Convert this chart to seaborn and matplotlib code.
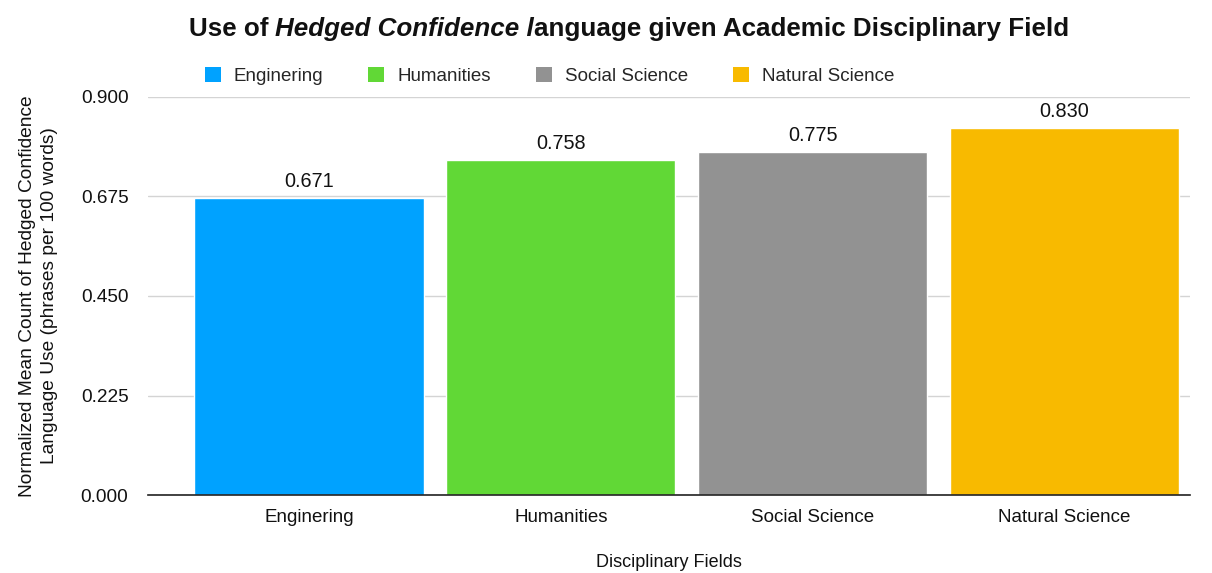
import matplotlib
matplotlib.use("Agg")
import matplotlib.pyplot as plt
import seaborn as sns
import pandas as pd
from matplotlib.patches import Patch

# data
fields = ["Enginering", "Humanities", "Social Science", "Natural Science"]
values = [0.671, 0.758, 0.775, 0.830]
colors = ["#00A2FF", "#61D836", "#929292", "#F8BA00"]
yticks = [0.0, 0.225, 0.45, 0.675, 0.9]

df = pd.DataFrame({"field": fields, "value": values})

sns.set_theme(style="white")
plt.rcParams["font.family"] = ["Liberation Sans", "DejaVu Sans"]

fig = plt.figure(figsize=(12.12, 5.73), dpi=100)
ax = fig.add_axes([0.122, 0.136, 0.860, 0.695])

sns.barplot(data=df, x="field", y="value", hue="field", palette=colors,
            width=0.91, legend=False, ax=ax, zorder=3, saturation=1)

ax.set_ylim(0, 0.9)
ax.set_xlim(-0.64, 3.5)
ax.set_yticks(yticks)
ax.set_yticklabels([f"{t:.3f}" for t in yticks], fontsize=13.7, color="#111111")
ax.tick_params(axis="x", labelsize=13.5, length=0, pad=10, labelcolor="#111111")
ax.tick_params(axis="y", length=0, pad=14)
ax.yaxis.grid(True, color="#d4d4d4", linewidth=1, zorder=0)
for s in ["top", "right", "left"]:
    ax.spines[s].set_visible(False)
ax.spines["bottom"].set_color("#222222")
ax.spines["bottom"].set_linewidth(1.2)
ax.spines["bottom"].set_zorder(4)

for p, v in zip(ax.patches, values):
    ax.annotate(f"{v:.3f}", (p.get_x() + p.get_width() / 2, v),
                xytext=(0, 5), textcoords="offset points",
                ha="center", va="bottom", fontsize=14.3, color="#111111")

ax.set_xlabel("Disciplinary Fields", fontsize=13, labelpad=20, color="#111111")
ax.set_ylabel("Normalized Mean Count of Hedged Confidence\nLanguage Use (phrases per 100 words)",
              fontsize=13.8, labelpad=16, linespacing=1.45, color="#111111")

# title with italic middle part
parts = [("Use of ", "normal"), ("Hedged Confidence l", "italic"),
         ("anguage given Academic Disciplinary Field", "normal")]
fig.canvas.draw()
renderer = fig.canvas.get_renderer()
texts = []
for s, style in parts:
    t = fig.text(0, 0.95, s, fontsize=18.7, fontweight="bold", fontstyle=style,
                 ha="left", va="center", color="#111111")
    texts.append(t)
widths = [t.get_window_extent(renderer).width for t in texts]
total = sum(widths)
x = 629 - total / 2
for t, w in zip(texts, widths):
    t.set_x(x / fig.bbox.width)
    x += w

handles = [Patch(facecolor=c, edgecolor="none") for c in colors]
fig.legend(handles, fields, loc="center left", bbox_to_anchor=(0.155, 0.868),
           ncol=4, frameon=False, fontsize=13.5, handlelength=0.85, handleheight=0.85,
           columnspacing=2.4, handletextpad=0.7)

fig.savefig("out.png", dpi=100, facecolor="white")
